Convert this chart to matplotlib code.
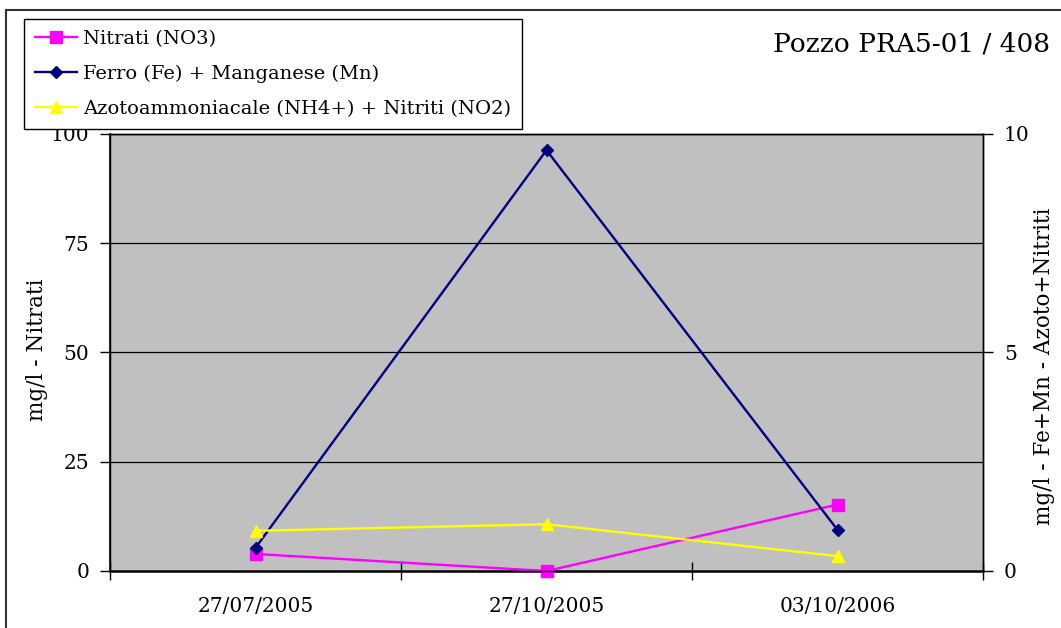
#!/usr/bin/env python

# Pozzo PRA5-01 / 408 - nitrati, ferro+manganese, azoto+nitriti

import matplotlib
matplotlib.use('Agg')
import matplotlib.pyplot as plt
from matplotlib.patches import Rectangle

dates = ['27/07/2005', '27/10/2005', '03/10/2006']
nitrati = [3.9, 0.0, 15.2]          # left axis
ferro_mn = [0.53, 9.63, 0.94]       # right axis
azoto_nitriti = [0.92, 1.07, 0.34]  # right axis

plt.rcParams['font.family'] = 'DejaVu Serif'
plt.rcParams['font.size'] = 14

fig = plt.figure(figsize=(10.61, 6.28), dpi=100)
fig.patches.append(Rectangle((6 / 1061, -0.01), 1.1, 1 - 10 / 628 + 0.01,
                             transform=fig.transFigure, fill=False,
                             edgecolor='#333333', lw=1.5, zorder=0))

ax = fig.add_axes([110 / 1061, 1 - 571 / 628, 873 / 1061, 437 / 628])
ax.set_facecolor('#C0C0C0')
ax2 = ax.twinx()

x = list(range(len(dates)))
ln1, = ax.plot(x, nitrati, color='#FF00FF', marker='s', markersize=8,
               lw=1.7, label='Nitrati (NO3)', clip_on=False, zorder=3)
ln2, = ax2.plot(x, ferro_mn, color='#000080', marker='D', markersize=6.5,
                lw=1.7, label='Ferro (Fe) + Manganese (Mn)', clip_on=False)
ln3, = ax2.plot(x, azoto_nitriti, color='#FFFF00', marker='^', markersize=9,
                lw=1.7, label='Azotoammoniacale (NH4+) + Nitriti (NO2)',
                clip_on=False)

ax.set_xlim(-0.5, 2.5)
ax.set_ylim(0, 100)
ax2.set_ylim(0, 10)
ax.set_yticks([0, 25, 50, 75, 100])
ax2.set_yticks([0, 5, 10])
ax.yaxis.grid(True, color='black', lw=0.9)
ax.set_axisbelow(True)

ax.set_xticks(x)
ax.set_xticklabels(dates)
ax.set_xticks([-0.5, 0.5, 1.5, 2.5], minor=True)
ax.tick_params(axis='x', which='major', length=0, pad=19, labelsize=14.5)
ax.tick_params(axis='x', which='minor', length=13, width=1, direction='inout')
ax.tick_params(axis='y', length=7, width=1, pad=8, labelsize=14.5)
ax2.tick_params(axis='y', length=7, width=1, pad=8, labelsize=14.5)

for a in (ax, ax2):
    for s in a.spines.values():
        s.set_color('black')
        s.set_linewidth(1)
ax.spines['bottom'].set_color('#333333')
ax.spines['bottom'].set_linewidth(2)
ax.spines['left'].set_color('#333333')
ax.spines['left'].set_linewidth(1.5)

ax.set_ylabel('mg/l - Nitrati', fontsize=15.5)
ax2.set_ylabel('mg/l - Fe+Mn - Azoto+Nitriti', fontsize=15.5)
ax.yaxis.set_label_coords((48 - 110) / 873, (571 - 350) / 437)
ax2.yaxis.set_label_coords((1033 - 110) / 873, (571 - 366) / 437)

fig.text(1050 / 1061, 1 - 44 / 628, 'Pozzo PRA5-01 / 408', ha='right',
         va='center', fontsize=19)

leg = fig.legend(handles=[ln1, ln2, ln3], loc='upper left',
                 bbox_to_anchor=(24 / 1061, 1 - 19 / 628), borderaxespad=0,
                 fancybox=False, framealpha=1, edgecolor='black',
                 handlelength=2.2, handletextpad=0.3, borderpad=0.55,
                 labelspacing=0.88, fontsize=14)
leg.get_frame().set_linewidth(1)

fig.savefig('out.png', dpi=100)
